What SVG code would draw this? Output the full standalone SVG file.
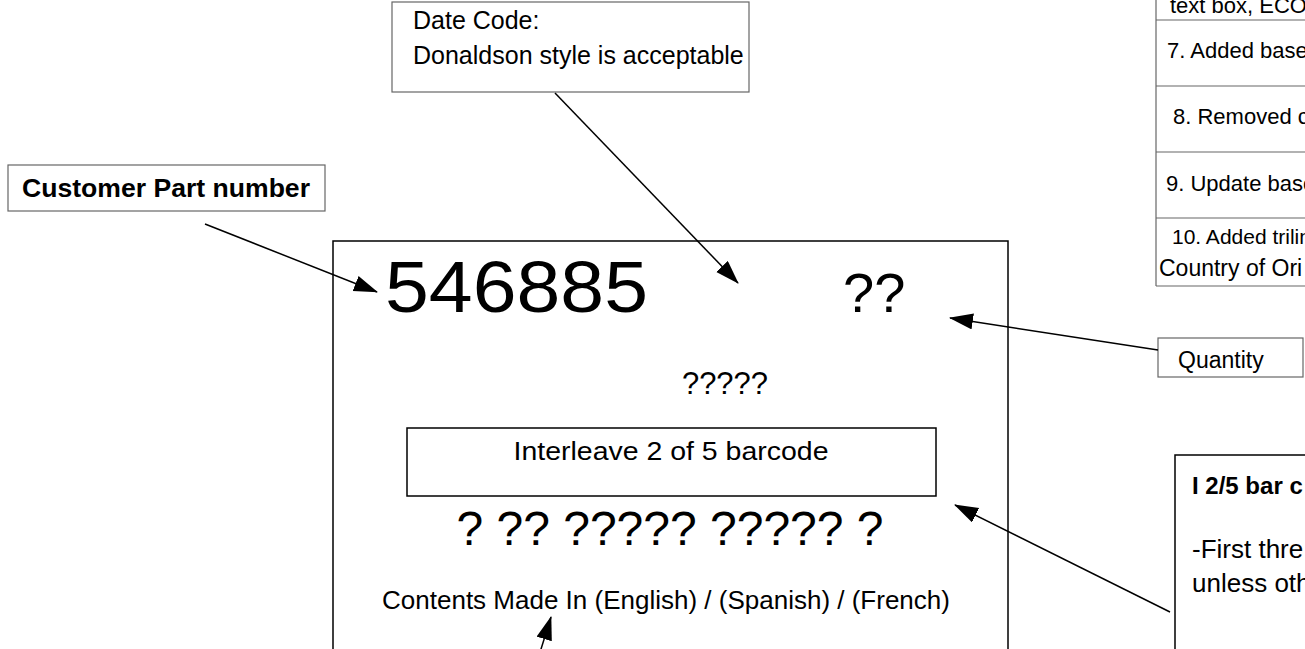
<svg xmlns="http://www.w3.org/2000/svg" width="1305" height="649" viewBox="0 0 1305 649">
<defs>
<style>
text{font-family:"Liberation Sans",Arial,sans-serif;fill:#000}
.b{font-weight:bold}
.gbox{fill:#fff;stroke:#666;stroke-width:1.2}
.kbox{fill:#fff;stroke:#000;stroke-width:1.5}
.con line{stroke:#000;stroke-width:1.5}
.tl{stroke:#666;stroke-width:1.2}
.t22{font-size:22px}
</style>
<marker id="ah" markerUnits="userSpaceOnUse" markerWidth="24" markerHeight="18" viewBox="0 0 24 18" refX="23" refY="8" orient="auto">
<path d="M0,0 L24,8 L0,16 Z" fill="#000"/>
</marker>
</defs>
<rect width="1305" height="649" fill="#fff"/>

<g id="revtable">
<line class="tl" x1="1156" y1="0" x2="1156" y2="286"/>
<line class="tl" x1="1156" y1="20" x2="1305" y2="20"/>
<line class="tl" x1="1156" y1="86" x2="1305" y2="86"/>
<line class="tl" x1="1156" y1="152" x2="1305" y2="152"/>
<line class="tl" x1="1156" y1="218" x2="1305" y2="218"/>
<line class="tl" x1="1156" y1="286" x2="1305" y2="286"/>
<text class="t22" x="1170" y="13">text box, ECO</text>
<text class="t22" x="1167" y="58">7. Added base</text>
<text class="t22" x="1173" y="124">8. Removed c</text>
<text class="t22" x="1166" y="191">9. Update base</text>
<text x="1172" y="244" font-size="21">10. Added trilin</text>
<text x="1159" y="276" font-size="23">Country of Ori</text>
</g>

<g id="label">
<rect class="kbox" x="333" y="241" width="675" height="430"/>
</g>
<g id="partnum"><text x="385" y="312" font-size="72" textLength="263" lengthAdjust="spacingAndGlyphs">546885</text></g>
<g id="qty"><text x="843" y="312" font-size="56">??</text></g>
<g id="datecode"><text x="725" y="394" font-size="31" text-anchor="middle">?????</text></g>
<g id="barcode">
<rect class="kbox" x="407" y="428" width="529" height="68"/>
<text x="671" y="460" font-size="26" text-anchor="middle" textLength="315" lengthAdjust="spacingAndGlyphs">Interleave 2 of 5 barcode</text>
</g>
<g id="barcodetext"><text x="670" y="545" font-size="48" text-anchor="middle">? ?? ????? ????? ?</text></g>
<g id="contents"><text x="666" y="609" font-size="26" text-anchor="middle">Contents Made In (English) / (Spanish) / (French)</text></g>

<g id="datecodenote">
<rect class="gbox" x="392" y="2" width="357" height="90"/>
<text x="413" y="29" font-size="25">Date Code:</text>
<text x="413" y="64" font-size="25">Donaldson style is acceptable</text>
</g>
<g id="customernote">
<rect class="gbox" x="8" y="165" width="317" height="46"/>
<text class="b" x="22" y="197" font-size="25" textLength="288" lengthAdjust="spacingAndGlyphs">Customer Part number</text>
</g>
<g id="quantitynote">
<rect class="gbox" x="1158" y="338" width="145" height="39"/>
<text x="1178" y="368" font-size="23">Quantity</text>
</g>
<g id="i25note">
<rect class="kbox" x="1175" y="455" width="200" height="250"/>
<text class="b" x="1192" y="494" font-size="24">I 2/5 bar c</text>
<text x="1192" y="558" font-size="26">-First thre</text>
<text x="1192" y="592" font-size="26">unless oth</text>
</g>

<g id="connectors" class="con">
<line x1="205" y1="224" x2="377" y2="292" marker-end="url(#ah)"/>
<line x1="555" y1="93" x2="738" y2="283" marker-end="url(#ah)"/>
<line x1="1158" y1="350" x2="950" y2="318" marker-end="url(#ah)"/>
<line x1="1170" y1="612" x2="955" y2="505" marker-end="url(#ah)"/>
<line x1="537" y1="662" x2="551" y2="617" marker-end="url(#ah)"/>
</g>
</svg>
